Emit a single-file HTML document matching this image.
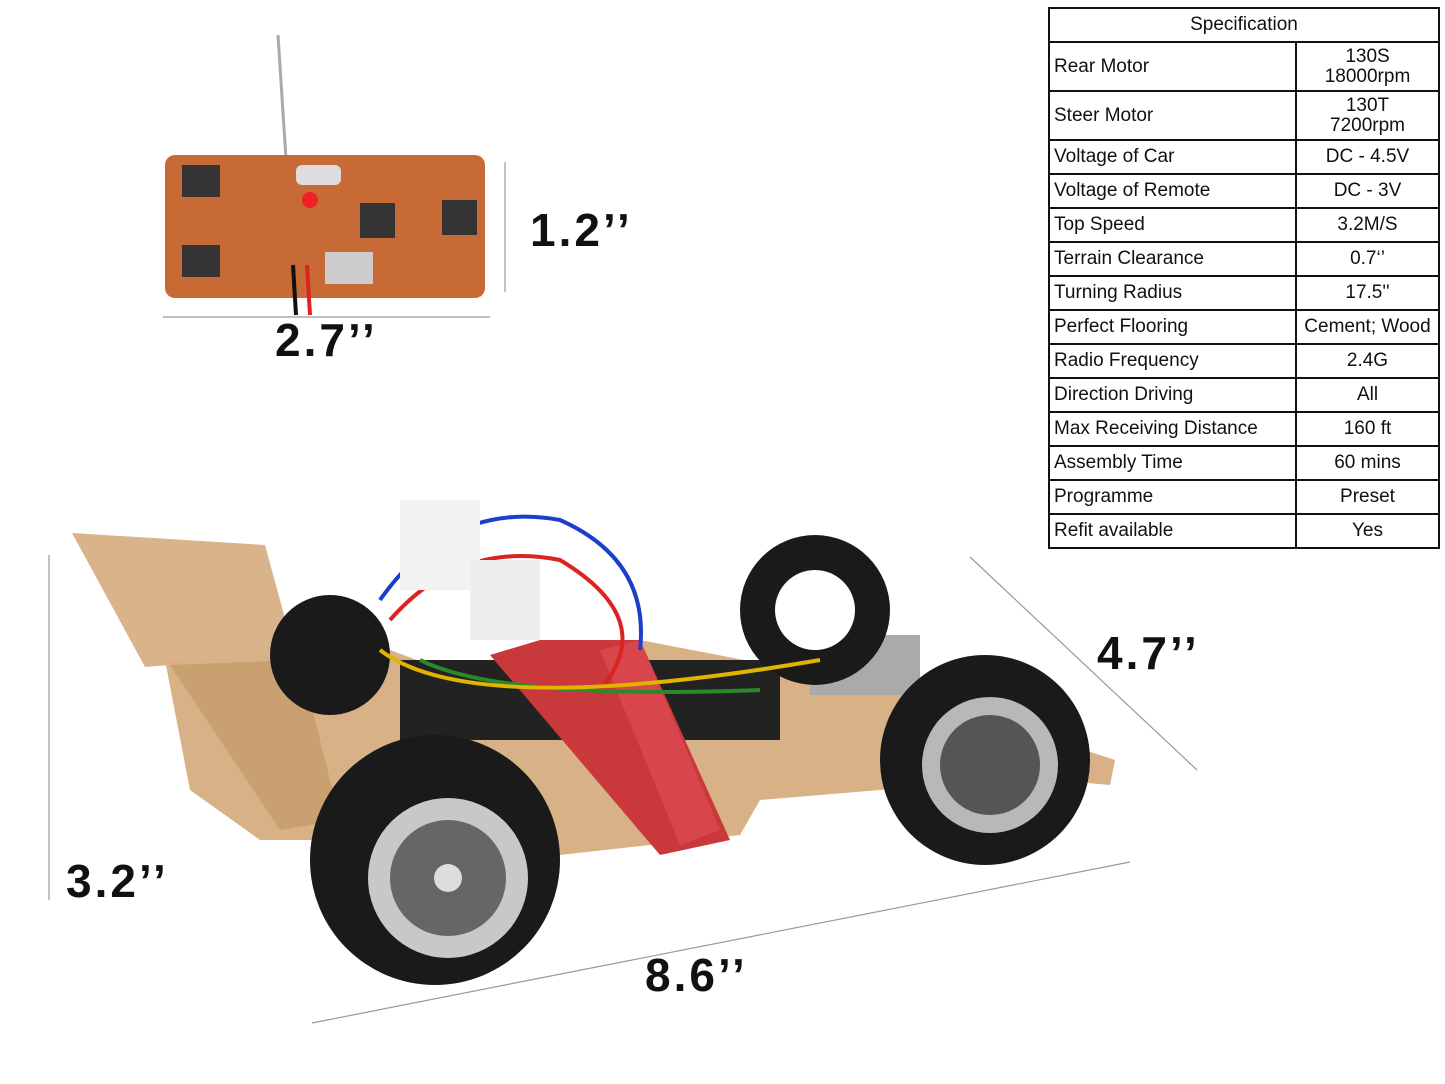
<!DOCTYPE html><html><head><meta charset="utf-8"><style>
body{margin:0;width:1445px;height:1084px;background:#fff;position:relative;overflow:hidden;font-family:"Liberation Sans",sans-serif}
.t{position:absolute;left:1048px;top:7px;width:392px;border-collapse:collapse;font-size:19px;color:#111}
.t td{border:2.5px solid #111;padding:0 4px;line-height:20px;height:32px}
.t td:nth-child(2){text-align:center;width:141px;padding:0}
.d{position:absolute;font-weight:900;font-size:46px;color:#111;letter-spacing:3px}
</style></head><body>
<table class="t">
<tr><td colspan="2" style="text-align:center;height:32px">Specification</td></tr>
<tr><td style="height:47px">Rear Motor</td><td>130S<br>18000rpm</td></tr>
<tr><td style="height:47px">Steer Motor</td><td>130T<br>7200rpm</td></tr>
<tr><td>Voltage of Car</td><td>DC - 4.5V</td></tr>
<tr><td>Voltage of Remote</td><td>DC - 3V</td></tr>
<tr><td>Top Speed</td><td>3.2M/S</td></tr>
<tr><td>Terrain Clearance</td><td>0.7‘’</td></tr>
<tr><td>Turning Radius</td><td>17.5''</td></tr>
<tr><td>Perfect Flooring</td><td>Cement; Wood</td></tr>
<tr><td>Radio Frequency</td><td>2.4G</td></tr>
<tr><td>Direction Driving</td><td>All</td></tr>
<tr><td>Max Receiving Distance</td><td>160 ft</td></tr>
<tr><td>Assembly Time</td><td>60 mins</td></tr>
<tr><td>Programme</td><td>Preset</td></tr>
<tr><td>Refit available</td><td>Yes</td></tr>
</table>
<svg width="1445" height="1084" style="position:absolute;left:0;top:0">
<g stroke="#999" stroke-width="1.2">
<line x1="505" y1="162" x2="505" y2="292"/><line x1="163" y1="317" x2="490" y2="317"/>
<line x1="49" y1="555" x2="49" y2="900"/><line x1="970" y1="557" x2="1197" y2="770"/>
<line x1="312" y1="1023" x2="1130" y2="862"/></g>
<line x1="278" y1="35" x2="288" y2="190" stroke="#aaa" stroke-width="3"/>
<rect x="165" y="155" width="320" height="143" rx="10" fill="#c86a35"/>
<rect x="296" y="165" width="45" height="20" rx="6" fill="#ddd"/>
<rect x="325" y="252" width="48" height="32" fill="#ccc"/>
<g fill="#333"><rect x="182" y="165" width="38" height="32"/><rect x="182" y="245" width="38" height="32"/><rect x="360" y="203" width="35" height="35"/><rect x="442" y="200" width="35" height="35"/></g>
<circle cx="310" cy="200" r="8" fill="#e22"/>
<line x1="293" y1="265" x2="296" y2="315" stroke="#111" stroke-width="4"/><line x1="307" y1="265" x2="310" y2="315" stroke="#d22" stroke-width="4"/>
<polygon points="72,533 265,545 295,655 145,667" fill="#d9b48a"/>
<polygon points="165,660 390,650 470,680 640,640 900,690 1115,760 1110,785 1000,775 880,790 760,800 740,835 560,855 400,840 260,840 190,790" fill="#d8b187"/>
<polygon points="170,665 300,660 340,820 280,830" fill="#c9a070"/>
<rect x="400" y="660" width="380" height="80" fill="#222"/>
<polygon points="490,655 540,640 640,640 730,840 660,855" fill="#c9393c"/>
<polygon points="600,650 640,640 720,830 680,845" fill="#d8454a"/>
<rect x="810" y="635" width="110" height="60" fill="#aaa"/>
<circle cx="330" cy="655" r="60" fill="#1a1a1a"/>
<circle cx="815" cy="610" r="75" fill="#1a1a1a"/><circle cx="815" cy="610" r="40" fill="#fff"/>
<circle cx="985" cy="760" r="105" fill="#1a1a1a"/><circle cx="990" cy="765" r="68" fill="#b8b8b8"/><circle cx="990" cy="765" r="50" fill="#555"/>
<circle cx="435" cy="860" r="125" fill="#1a1a1a"/><circle cx="448" cy="878" r="80" fill="#c8c8c8"/><circle cx="448" cy="878" r="58" fill="#666"/><circle cx="448" cy="878" r="14" fill="#ddd"/>
<g stroke-width="4" fill="none"><path d="M380 600 Q450 500 560 520 Q650 560 640 650" stroke="#1b3fc9"/><path d="M390 620 Q460 540 560 560 Q660 620 600 690" stroke="#d22"/><path d="M420 660 Q500 700 760 690" stroke="#2a8a2a"/><path d="M380 650 Q470 720 820 660" stroke="#e0b400"/></g>
<rect x="400" y="500" width="80" height="90" fill="#f2f2f2"/><rect x="470" y="560" width="70" height="80" fill="#eee"/>
</svg>
<div class="d" style="left:530px;top:203px">1.2’’</div>
<div class="d" style="left:275px;top:313px">2.7’’</div>
<div class="d" style="left:1097px;top:626px">4.7’’</div>
<div class="d" style="left:66px;top:854px">3.2’’</div>
<div class="d" style="left:645px;top:948px">8.6’’</div>
</body></html>
